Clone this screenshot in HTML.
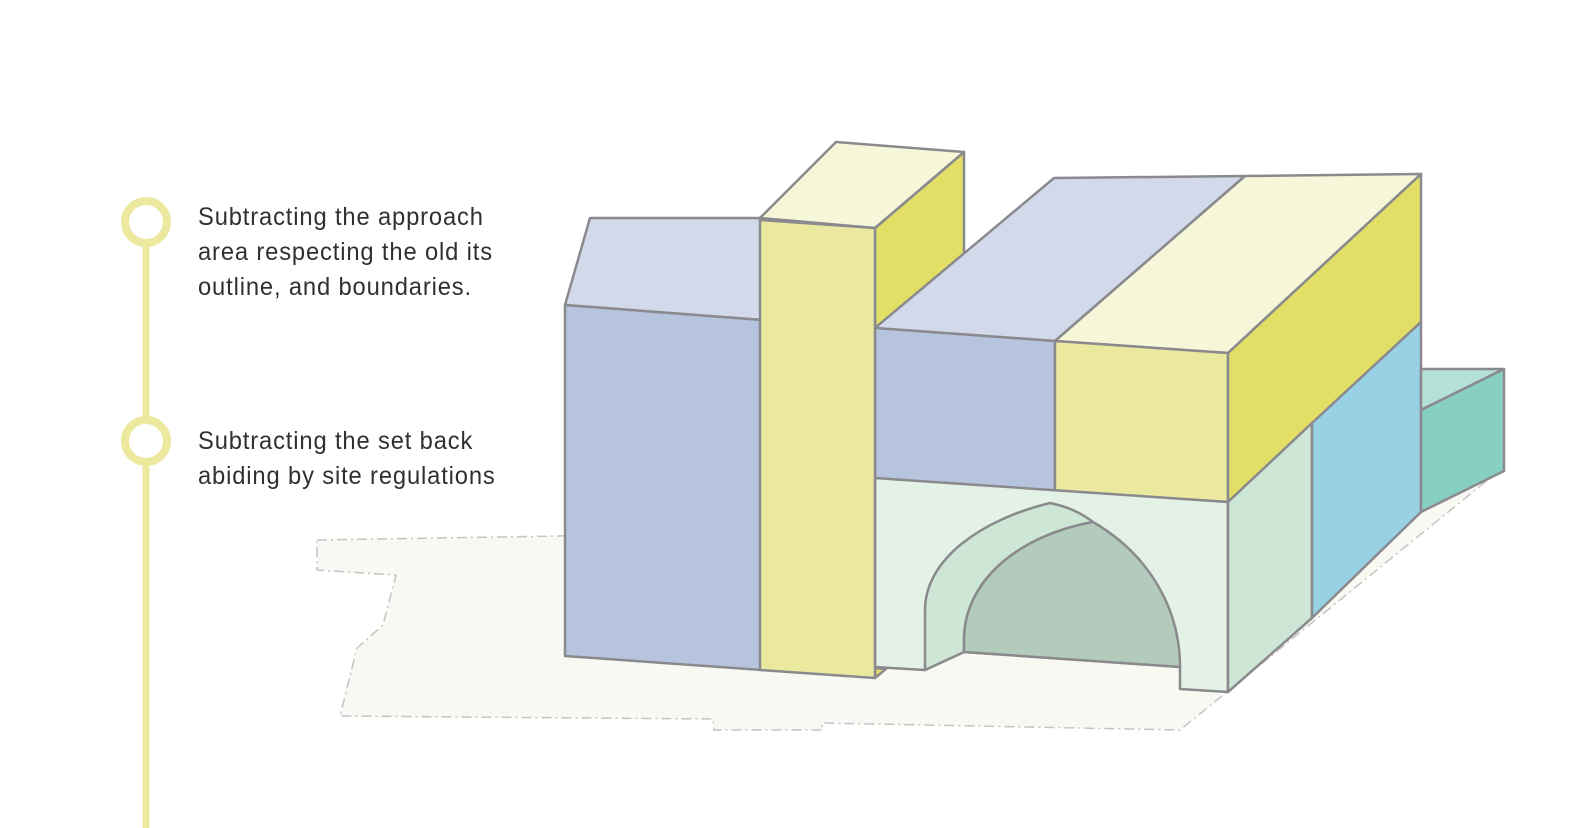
<!DOCTYPE html>
<html><head><meta charset="utf-8"><style>
html,body{margin:0;padding:0;background:#fff;width:1582px;height:828px;overflow:hidden}
svg{display:block}
text{font-family:"Liberation Sans","DejaVu Sans",sans-serif;font-size:25px;fill:#303030;font-weight:normal;letter-spacing:0.9px}
</style></head><body>
<svg width="1582" height="828" viewBox="0 0 1582 828">
<line x1="146" y1="222" x2="146" y2="828" stroke="#ece99e" stroke-width="7"/>
<circle cx="146" cy="222" r="21" fill="#fff" stroke="#ece99e" stroke-width="8"/>
<circle cx="146" cy="441" r="21" fill="#fff" stroke="#ece99e" stroke-width="8"/>
<g transform="translate(198,0) scale(0.95,1)">
<text x="0" y="225">Subtracting the approach</text>
<text x="0" y="260">area respecting the old its</text>
<text x="0" y="295">outline, and boundaries.</text>
<text x="0" y="449">Subtracting the set back</text>
<text x="0" y="484">abiding by site regulations</text>
</g>

<polygon points="317,540 560,536 1490,478 1180,730 822,723 822,730 714,730 713,719 340,716 357,648 383,625 396,575 317,570" fill="#f8f9f3" stroke="#c4c4c4" stroke-width="1.5" stroke-dasharray="10,4,2,4"/>

<g stroke="#8a8a8e" stroke-width="2.5" stroke-linejoin="round">
<polygon points="565,305 590,218 762,218 762,320" fill="#d2d9ea"/>
<polygon points="565,305 762,320 762,670 565,656" fill="#b7c4de"/>
<polygon points="875,228 964,152 964,300 875,380" fill="#e1df66"/>
<polygon points="875,328 1054,178 1245,176 1055,341" fill="#d2d9ea"/>
<polygon points="875,328 1055,341 1055,491 875,478" fill="#b7c4de"/>
<polygon points="1055,341 1245,176 1421,174 1228,353" fill="#f6f7d9"/>
<polygon points="1055,341 1228,353 1228,502 1055,491" fill="#ebe9a0"/>
<polygon points="1228,353 1421,174 1421,322 1228,502" fill="#e1df66"/>
<polygon points="875,478 1228,502 1228,692 1180,689 1180,667 964,652 925,670 875,667" fill="#e3f1e6"/>
<path d="M925,670 L925,610 C925,560 980,520 1050,503 Q1075,508 1093,522 C1020,535 964,580 964,640 L964,652 Z" fill="#cde6d6"/>
<path d="M964,652 L964,640 C964,580 1020,535 1093,522 C1150,555 1180,610 1180,667 Z" fill="#b3cbbc"/>
<polygon points="1228,502 1312,423 1312,618 1228,692" fill="#cde6d6"/>
<polygon points="1312,423 1421,322 1421,512 1312,618" fill="#99d1e4"/>
<polygon points="1421,369 1504,369 1421,410" fill="#b4e0d7"/>
<polygon points="1421,410 1504,369 1504,471 1421,512" fill="#86cfc2"/>
<polygon points="875,668 886,669 875,678" fill="#e1df66"/>
<polygon points="760,218 836,142 964,152 875,228" fill="#f6f7d9"/>
<polygon points="760,220 875,228 875,678 760,670" fill="#ebe9a0"/>
</g>
</svg>
</body></html>
